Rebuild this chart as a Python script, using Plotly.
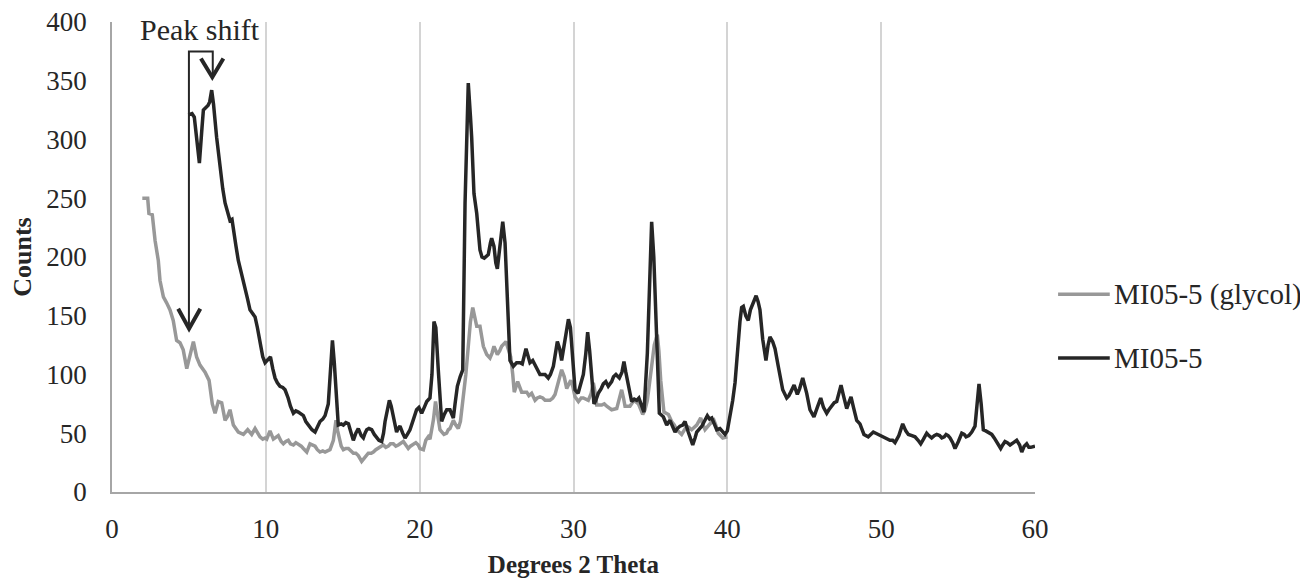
import plotly.graph_objects as go

# ---------------- data ----------------
series_names = ["MI05-5 (glycol)", "MI05-5"]

glycol_x = [1.97, 2.32, 2.4, 2.62, 2.8, 3.01, 3.12, 3.34, 3.55, 3.77, 3.98, 4.2, 4.42, 4.63, 4.86, 5.07, 5.29, 5.5, 5.72, 6.05,
            6.31, 6.52, 6.7, 6.91, 7.13, 7.35, 7.5, 7.67, 7.89, 8.21, 8.54, 8.82, 9.08, 9.3, 9.62, 9.8, 9.95, 10.06, 10.27, 10.49,
            10.6, 10.81, 11.0, 11.14, 11.3, 11.46, 11.6, 11.79, 11.95, 12.11, 12.3, 12.44, 12.66, 12.87, 13.05, 13.2, 13.35, 13.52, 13.7, 13.85,
            14.0, 14.17, 14.39, 14.56, 14.67, 14.78, 14.9, 15.04, 15.2, 15.37, 15.55, 15.69, 15.85, 16.01, 16.23, 16.45, 16.66, 16.85, 16.99, 17.15,
            17.31, 17.5, 17.64, 17.8, 17.96, 18.1, 18.29, 18.45, 18.61, 18.8, 18.94, 19.1, 19.26, 19.4, 19.59, 19.75, 19.91, 20.02, 20.24, 20.4,
            20.56, 20.67, 20.78, 20.9, 21.03, 21.21, 21.32, 21.45, 21.58, 21.75, 21.86, 21.97, 22.19, 22.35, 22.51, 22.65, 22.84, 23.0, 23.16, 23.3,
            23.45, 23.55, 23.71, 23.92, 24.03, 24.14, 24.36, 24.57, 24.7, 24.83, 25.05, 25.2, 25.33, 25.61, 25.75, 25.92, 26.05, 26.15, 26.37, 26.5,
            26.63, 26.96, 27.1, 27.28, 27.5, 27.65, 27.82, 28.0, 28.15, 28.47, 28.65, 28.8, 29.01, 29.23, 29.4, 29.56, 29.7, 29.82, 29.95, 30.1,
            30.32, 30.5, 30.64, 30.96, 31.15, 31.29, 31.4, 31.51, 31.83, 32.0, 32.16, 32.48, 32.81, 32.95, 33.13, 33.25, 33.35, 33.67, 33.93, 34.22,
            34.5, 34.65, 34.8, 35.08, 35.25, 35.45, 35.55, 35.67, 35.88, 36.17, 36.38, 36.55, 36.71, 37.03, 37.2, 37.36, 37.5, 37.68, 38.01, 38.27,
            38.4, 38.55, 38.87, 39.13, 39.25, 39.41, 39.7, 40.0]
glycol_y = [250, 250, 237, 236, 214, 197, 180, 166, 161, 155, 146, 129, 127, 121, 105, 115, 128, 115, 108, 102,
            95, 75, 67, 77, 76, 61, 64, 70, 57, 51, 49, 53, 49, 54, 47, 45, 46, 45, 52, 45,
            46, 48, 43, 41, 43, 44, 41, 40, 42, 41, 39, 37, 34, 41, 40, 39, 36, 34, 35, 34,
            35, 36, 44, 61, 52, 44, 39, 36, 37, 37, 35, 33, 33, 31, 26, 30, 33, 33, 34, 36,
            37, 39, 40, 38, 39, 41, 41, 39, 40, 42, 43, 40, 37, 39, 41, 42, 40, 37, 36, 44,
            47, 45, 53, 62, 77, 61, 53, 51, 49, 50, 53, 54, 61, 57, 54, 60, 81, 100, 124, 145,
            157, 150, 141, 141, 133, 124, 117, 114, 118, 124, 117, 120, 124, 128, 122, 115, 100, 85, 94, 90,
            85, 85, 82, 84, 78, 80, 81, 80, 78, 78, 80, 83, 94, 104, 98, 88, 92, 95, 90, 81,
            77, 80, 80, 78, 84, 93, 85, 74, 74, 75, 73, 70, 71, 78, 87, 80, 73, 73, 78, 75,
            66, 70, 78, 107, 125, 134, 120, 95, 68, 66, 60, 57, 53, 49, 52, 56, 55, 53, 57, 63,
            58, 53, 58, 61, 57, 50, 46, 47]

main_x = [4.96, 5.2, 5.35, 5.5, 5.68, 5.85, 5.94, 6.24, 6.35, 6.48, 6.6, 6.8, 7.02, 7.2, 7.35, 7.5, 7.67, 7.8, 7.89, 8.05,
          8.21, 8.4, 8.65, 8.8, 8.97, 9.15, 9.3, 9.45, 9.62, 9.8, 9.95, 10.1, 10.3, 10.45, 10.6, 10.75, 10.92, 11.1, 11.25, 11.45,
          11.6, 11.79, 11.95, 12.11, 12.3, 12.44, 12.6, 12.76, 13.0, 13.2, 13.35, 13.52, 13.7, 13.85, 14.06, 14.2, 14.33, 14.45, 14.56, 14.71,
          14.9, 15.04, 15.2, 15.37, 15.55, 15.69, 15.85, 16.01, 16.2, 16.34, 16.45, 16.56, 16.7, 16.88, 17.05, 17.2, 17.35, 17.53, 17.65, 17.75,
          17.9, 18.03, 18.15, 18.29, 18.4, 18.5, 18.6, 18.72, 18.9, 19.05, 19.2, 19.37, 19.6, 19.8, 19.95, 20.13, 20.3, 20.46, 20.67, 20.8,
          20.93, 21.05, 21.21, 21.32, 21.43, 21.6, 21.76, 21.97, 22.19, 22.3, 22.45, 22.63, 22.8, 22.95, 23.16, 23.3, 23.38, 23.53, 23.71, 23.92,
          24.05, 24.2, 24.46, 24.6, 24.68, 24.83, 24.95, 25.05, 25.22, 25.4, 25.55, 25.7, 25.87, 26.09, 26.3, 26.52, 26.67, 26.91, 27.05, 27.17,
          27.35, 27.5, 27.82, 28.15, 28.36, 28.5, 28.69, 28.95, 29.1, 29.23, 29.45, 29.67, 29.8, 29.95, 30.1, 30.3, 30.45, 30.64, 30.8, 30.92,
          31.05, 31.18, 31.33, 31.45, 31.61, 31.8, 31.94, 32.1, 32.26, 32.48, 32.6, 32.76, 32.98, 33.15, 33.28, 33.4, 33.56, 33.78, 33.95, 34.11,
          34.25, 34.37, 34.58, 34.8, 34.95, 35.08, 35.22, 35.36, 35.48, 35.58, 35.84, 36.06, 36.27, 36.45, 36.6, 36.75, 36.92, 37.1, 37.25, 37.46,
          37.6, 37.75, 37.9, 38.01, 38.2, 38.34, 38.5, 38.7, 38.85, 38.99, 39.15, 39.31, 39.52, 39.7, 39.85, 40.0, 40.17, 40.35, 40.5, 40.65,
          40.82, 40.93, 41.04, 41.2, 41.36, 41.5, 41.69, 41.87, 42.0, 42.12, 42.3, 42.51, 42.65, 42.77, 42.95, 43.1, 43.31, 43.45, 43.6, 43.86,
          44.0, 44.12, 44.34, 44.55, 44.7, 44.9, 45.05, 45.16, 45.37, 45.63, 45.85, 46.07, 46.25, 46.46, 46.6, 46.79, 46.95, 47.11, 47.25, 47.39,
          47.55, 47.76, 47.9, 48.04, 48.2, 48.41, 48.62, 48.75, 48.88, 49.16, 49.3, 49.49, 49.65, 49.81, 50.0, 50.18, 50.35, 50.57, 50.75, 50.9,
          51.15, 51.4, 51.6, 51.77, 52.0, 52.2, 52.4, 52.57, 52.75, 52.96, 53.1, 53.28, 53.45, 53.61, 53.8, 53.94, 54.1, 54.22, 54.35, 54.48,
          54.65, 54.8, 55.02, 55.24, 55.4, 55.52, 55.7, 55.89, 56.1, 56.25, 56.36, 56.5, 56.64, 56.8, 56.97, 57.19, 57.35, 57.51, 57.65, 57.77,
          57.9, 58.05, 58.2, 58.38, 58.6, 58.81, 59.0, 59.14, 59.3, 59.46, 59.6, 59.72, 60.0]
main_y = [321, 322, 319, 300, 280, 310, 325, 329, 332, 342, 330, 302, 274, 258, 246, 238, 231, 232, 222, 210,
          197, 187, 175, 165, 155, 152, 149, 140, 129, 115, 110, 112, 115, 105, 97, 93, 90, 89, 87, 80,
          73, 67, 69, 68, 66, 65, 60, 57, 53, 51, 55, 60, 62, 65, 75, 100, 129, 110, 87, 57,
          58, 57, 59, 58, 50, 44, 50, 54, 48, 46, 50, 53, 54, 53, 49, 46, 44, 43, 50, 60,
          72, 78, 73, 65, 57, 51, 54, 56, 50, 46, 49, 53, 62, 70, 72, 67, 72, 77, 80, 100,
          145, 140, 104, 75, 60, 66, 70, 70, 63, 75, 90, 98, 104, 246, 348, 320, 302, 254, 237, 206,
          200, 199, 202, 212, 216, 209, 195, 190, 212, 230, 212, 163, 112, 107, 110, 110, 109, 122, 115, 110,
          112, 108, 100, 100, 97, 100, 107, 128, 122, 112, 130, 147, 140, 112, 87, 84, 90, 100, 118, 136,
          120, 101, 75, 78, 84, 88, 92, 94, 90, 94, 98, 100, 97, 102, 111, 102, 90, 77, 79, 78,
          80, 75, 68, 118, 190, 230, 200, 144, 100, 67, 64, 57, 61, 56, 51, 54, 56, 57, 60, 51,
          45, 40, 46, 51, 54, 56, 60, 65, 62, 63, 58, 53, 54, 51, 49, 52, 64, 78, 93, 120,
          145, 157, 158, 150, 146, 155, 161, 167, 162, 155, 130, 112, 125, 132, 128, 122, 107, 95, 87, 80,
          82, 85, 91, 83, 88, 97, 90, 84, 70, 64, 72, 80, 72, 67, 70, 74, 76, 77, 84, 91,
          82, 71, 76, 81, 72, 61, 58, 53, 49, 47, 49, 51, 50, 49, 48, 47, 46, 44, 44, 42,
          48, 58, 52, 49, 48, 47, 44, 41, 45, 50, 48, 46, 48, 49, 48, 46, 47, 49, 48, 46,
          42, 37, 43, 50, 49, 47, 48, 51, 56, 75, 92, 75, 53, 52, 51, 49, 46, 43, 40, 37,
          40, 43, 42, 40, 42, 44, 40, 34, 39, 41, 38, 38, 39]

x_ticks = [0, 10, 20, 30, 40, 50, 60]
y_ticks = [0, 50, 100, 150, 200, 250, 300, 350, 400]
x_title = "Degrees 2 Theta"
y_title = "Counts"
annotation_text = "Peak shift"

# ---------------- styles ----------------
FONT = "Liberation Serif"
COL_GLY = "#989898"
COL_MAIN = "#262626"
AX_COL = "#a6a6a6"
GRID_COL = "#d4d4d4"

fig = go.Figure()
fig.add_trace(go.Scatter(x=glycol_x, y=glycol_y, mode="lines", name=series_names[0],
                         line=dict(color=COL_GLY, width=3.5), showlegend=False))
fig.add_trace(go.Scatter(x=main_x, y=main_y, mode="lines", name=series_names[1],
                         line=dict(color=COL_MAIN, width=3.5), showlegend=False))

# peak-shift bracket and arrows (annotation graphics)
fig.add_shape(type="path", xref="x", yref="y",
              path="M 5.0,140 L 5.0,375 L 6.55,375 L 6.55,355",
              line=dict(color=COL_MAIN, width=2))
fig.add_shape(type="path", xref="x", yref="y",
              path="M 5.78,369 L 6.52,353 L 7.24,369",
              line=dict(color=COL_MAIN, width=4))
fig.add_shape(type="path", xref="x", yref="y",
              path="M 4.3,156 L 5.01,139 L 5.74,156",
              line=dict(color=COL_MAIN, width=4))
fig.add_annotation(x=5.72, y=394, xref="x", yref="y", text=annotation_text, showarrow=False,
                   font=dict(family=FONT, size=30, color="#262626"), xanchor="center", yanchor="middle")

# manual legend
leg_y = [0.421, 0.285]
leg_cols = [COL_GLY, COL_MAIN]
for name, yy, col in zip(series_names, leg_y, leg_cols):
    fig.add_shape(type="line", xref="paper", yref="paper", x0=1.025, x1=1.081, y0=yy, y1=yy,
                  line=dict(color=col, width=3.5))
    fig.add_annotation(x=1.083, y=yy, xref="paper", yref="paper", text=name, showarrow=False,
                       xanchor="left", yanchor="middle",
                       font=dict(family=FONT, size=29, color="#262626"))

# page body adds an 8px offset, so margins are compensated
fig.update_layout(
    width=1308, height=583,
    margin=dict(l=104, r=281, t=14, b=99, autoexpand=False),
    paper_bgcolor="white", plot_bgcolor="white",
    font=dict(family=FONT, size=27, color="#262626"),
    showlegend=False,
)
fig.update_xaxes(range=[0, 60], tickvals=x_ticks, showgrid=True, gridcolor=GRID_COL, gridwidth=1.5,
                 showline=True, linecolor=AX_COL, linewidth=1.5, ticks="", zeroline=False,
                 ticklabelstandoff=12, automargin=False, ticklabeloverflow="allow",
                 title=dict(text="<b>" + x_title + "</b>", font=dict(family=FONT, size=25), standoff=12))
fig.update_yaxes(range=[0, 400], tickvals=y_ticks, showgrid=False,
                 showline=True, linecolor=AX_COL, linewidth=1.5, ticks="", zeroline=False,
                 ticklabelstandoff=18, automargin=False, ticklabeloverflow="allow",
                 title=dict(text="<b>" + y_title + "</b>", font=dict(family=FONT, size=26), standoff=8))

fig.write_html("out.html")
